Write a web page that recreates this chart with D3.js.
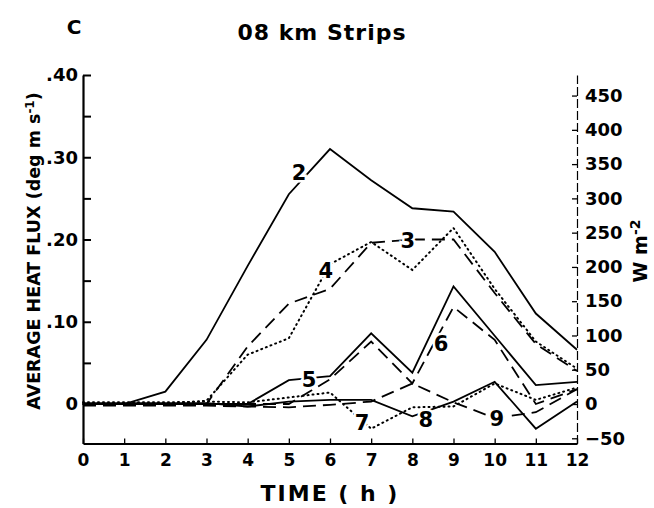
<!DOCTYPE html>
<html>
<head>
<meta charset="utf-8">
<script src="https://cdn.jsdelivr.net/npm/d3@7"></script>
<style>
body { margin: 0; background: #fff; }
text { font-family: "DejaVu Sans", sans-serif; font-weight: bold; fill: #000; }
</style>
</head>
<body>
<script>
// hours after start
var hours = [0, 1, 2, 3, 4, 5, 6, 7, 8, 9, 10, 11, 12];

// average heat flux per strip (deg m s-1)
var s2 = [0, 0, 0.015, 0.078, 0.168, 0.255, 0.31, 0.272, 0.238, 0.234, 0.185, 0.11, 0.066];
var s3 = [0, 0, 0, 0, 0.07, 0.122, 0.14, 0.196, 0.2, 0.2, 0.135, 0.073, 0.04];
var s4 = [0, 0, 0, 0.004, 0.06, 0.08, 0.17, 0.197, 0.163, 0.214, 0.14, 0.076, 0.043];
var s5 = [0, 0, 0, 0, 0, 0.029, 0.034, 0.086, 0.038, 0.143, 0.083, 0.023, 0.027];
var s6 = [0, 0, 0, 0, 0, 0, 0.03, 0.076, 0.025, 0.118, 0.078, 0.0, 0.018];
var s7 = [0.002, 0.002, 0.002, 0.003, 0.002, 0.008, 0.014, -0.03, -0.004, -0.003, 0.025, 0.005, 0.02];
var s8 = [0.001, 0.001, 0.001, 0.001, -0.003, 0.003, 0.005, 0.005, -0.015, 0.003, 0.027, -0.03, 0.003];
var s9 = [-0.002, -0.002, -0.002, -0.002, -0.003, -0.004, -0.001, 0.003, 0.025, 0.002, -0.017, -0.01, 0.018];

var stripNames = ['2', '3', '4', '5', '6', '7', '8', '9'];
// where each strip number is written (hour, flux)
var labelHour = [5.25, 7.89, 5.9, 5.49, 8.7, 6.78, 8.33, 10.05];
var labelFlux = [0.282, 0.199, 0.163, 0.03, 0.074, -0.022, -0.019, -0.017];

var leftTicks = [0, 0.05, 0.1, 0.15, 0.2, 0.25, 0.3, 0.35, 0.4];
var rightTicks = [-50, 0, 50, 100, 150, 200, 250, 300, 350, 400, 450];

var width = 654, height = 508;
var toWatts = 1200; // rho * cp

var svg = d3.select('body')
	.append('svg')
	.attr('width', width)
	.attr('height', height);

var x = d3.scaleLinear().domain([0, 12]).range([83, 577]);
var y = d3.scaleLinear().domain([-0.048, 0.40]).range([443.5, 75]);
var yW = d3.scaleLinear().domain([-0.048 * toWatts, 0.40 * toWatts]).range([443.5, 75]);

var dash = '13,7', dot = '1,4', solid = null;
var seriesValues = [s2, s3, s4, s5, s6, s7, s8, s9];
var seriesDash = [solid, dash, dot, solid, dash, dot, solid, dash];

var line = d3.line()
	.x(function(d, i) { return x(hours[i]); })
	.y(function(d) { return y(d); });

svg.append('g')
	.attr('class', 'lines')
	.selectAll('path')
	.data(seriesValues)
	.enter().append('path')
	.attr('d', line)
	.attr('fill', 'none')
	.attr('stroke', 'black')
	.attr('stroke-width', function(d, i) { return seriesDash[i] == dot ? 2 : 1.8; })
	.attr('stroke-linecap', function(d, i) { return seriesDash[i] == dot ? 'round' : 'butt'; })
	.attr('stroke-dasharray', function(d, i) { return seriesDash[i]; });

// strip numbers, with a white halo so the lines break round them
svg.append('g')
	.selectAll('text')
	.data(stripNames)
	.enter().append('text')
	.attr('x', function(d, i) { return x(labelHour[i]); })
	.attr('y', function(d, i) { return y(labelFlux[i]); })
	.attr('dy', '0.36em')
	.attr('text-anchor', 'middle')
	.style('font-size', '21px')
	.style('stroke', 'white')
	.style('stroke-width', 5)
	.style('paint-order', 'stroke')
	.text(function(d) { return d; });

// left axis
var fmtLeft = function(d) {
	if (d == 0) return '0';
	if (Math.round(d * 100) % 10 != 0) return '';
	return d3.format('.2f')(d).replace(/^0/, '');
};

var gLeft = svg.append('g')
	.attr('transform', 'translate(' + x(0) + ',0)')
	.call(d3.axisLeft(y).tickValues(leftTicks).tickFormat(fmtLeft).tickSize(-8).tickSizeOuter(0).tickPadding(5));

// bottom axis
var gBottom = svg.append('g')
	.attr('transform', 'translate(0,' + y(-0.048) + ')')
	.call(d3.axisBottom(x).tickValues(hours).tickFormat(d3.format('d')).tickSize(-5).tickSizeOuter(0).tickPadding(10));

// right axis in W m-2
var gRight = svg.append('g')
	.attr('transform', 'translate(' + x(12) + ',0)')
	.call(d3.axisRight(yW).tickValues(rightTicks).tickSize(-5).tickSizeOuter(0).tickPadding(8));

gLeft.select('.domain').attr('stroke-width', 2.2);
gBottom.select('.domain').attr('stroke-width', 2.2);
gRight.select('.domain').attr('stroke-width', 1.2).attr('stroke-dasharray', '9,3');
gLeft.selectAll('.tick line').attr('stroke-width', 2);
gBottom.selectAll('.tick line').attr('stroke-width', 1.3);
gRight.selectAll('.tick line').attr('stroke-width', 1.3);

svg.selectAll('.tick text')
	.style('font-size', '18px')
	.attr('font-family', null);
gBottom.selectAll('.tick text').style('font-size', '17px');

// titles
svg.append('text')
	.attr('x', 74)
	.attr('y', 34)
	.attr('text-anchor', 'middle')
	.style('font-size', '20px')
	.text('C');

svg.append('text')
	.attr('x', 322)
	.attr('y', 40)
	.attr('text-anchor', 'middle')
	.style('font-size', '22px')
	.style('letter-spacing', '1px')
	.text('08 km Strips');

svg.append('text')
	.attr('x', 330)
	.attr('y', 501)
	.attr('text-anchor', 'middle')
	.style('font-size', '22px')
	.style('letter-spacing', '2px')
	.text('TIME ( h )');

var yl = svg.append('text')
	.attr('transform', 'translate(40,251) rotate(-90)')
	.attr('text-anchor', 'middle')
	.style('font-size', '17.5px');
yl.append('tspan').text('AVERAGE HEAT FLUX (deg m s');
yl.append('tspan').attr('dy', -6).style('font-size', '12px').text('-1');
yl.append('tspan').attr('dy', 6).text(')');

var yr = svg.append('text')
	.attr('transform', 'translate(647,251) rotate(-90)')
	.attr('text-anchor', 'middle')
	.style('font-size', '19px');
yr.append('tspan').text('W m');
yr.append('tspan').attr('dy', -7).style('font-size', '14px').text('-2');
</script>
</body>
</html>
